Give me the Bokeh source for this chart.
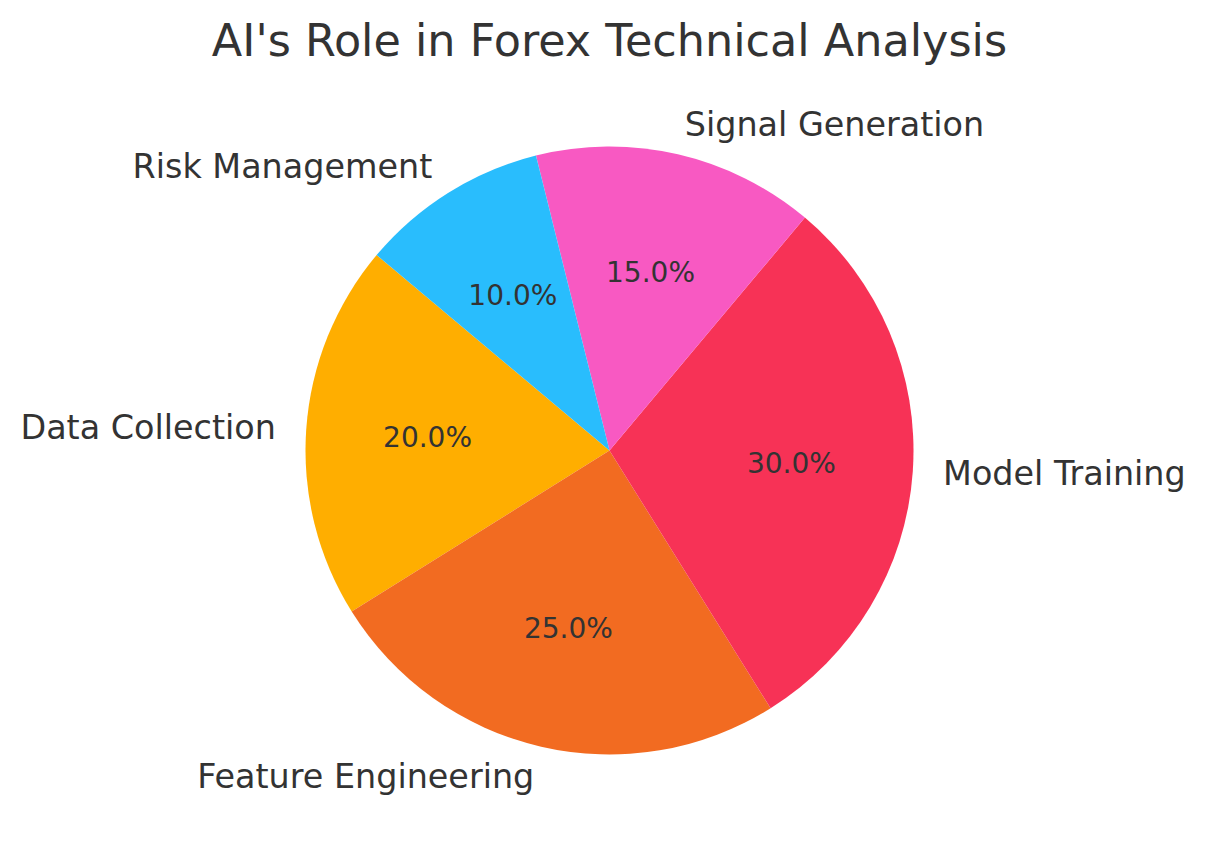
import math
from bokeh.plotting import figure
from bokeh.models import Range1d, ColumnDataSource
from bokeh.core.properties import value
from bokeh.embed import file_html
from bokeh.resources import INLINE

categories = ["Data Collection", "Feature Engineering", "Model Training", "Signal Generation", "Risk Management"]
shares = [20, 25, 30, 15, 10]
colors = ["#FFAE00", "#F26B21", "#F73256", "#F859C2", "#29BDFD"]
title_text = "AI's Role in Forex Technical Analysis"

W, H = 1189, 835
CX, CY, R = 609, 851 - 450, 304
START_DEG = 140
FONT = "DejaVu Sans"
TXT = "#333333"

total = sum(shares)
starts, ends, mids = [], [], []
a = math.radians(START_DEG)
for s in shares:
    span = 2 * math.pi * s / total
    starts.append(a)
    ends.append(a + span)
    mids.append(a + span / 2)
    a += span

p = figure(width=W, height=H, output_backend="svg", toolbar_location=None,
           x_range=Range1d(0, W), y_range=Range1d(851 - H, 851),
           min_border=0, min_border_left=0, min_border_right=0, min_border_top=0, min_border_bottom=0)
p.axis.visible = False
p.grid.visible = False
p.outline_line_color = None
p.background_fill_color = "white"

src = ColumnDataSource(dict(
    x=[CX] * len(shares), y=[CY] * len(shares),
    start=starts, end=ends, color=colors,
))
p.wedge(x="x", y="y", radius=R, radius_units="screen", start_angle="start", end_angle="end",
        fill_color="color", line_color=None, direction="anticlock", source=src)

# labels
lx = [CX + 1.1 * R * math.cos(m) for m in mids]
ly = [CY + 1.1 * R * math.sin(m) for m in mids]
lalign = ["left" if math.cos(m) > 0 else "right" for m in mids]
lsrc = ColumnDataSource(dict(x=lx, y=ly, t=categories, align=lalign))
p.text(x="x", y="y", text="t", text_align="align", text_baseline="middle",
       text_font=value(FONT), text_font_size="33.4px", text_color=TXT, source=lsrc)

# percentages
px_ = [CX + 0.6 * R * math.cos(m) for m in mids]
py_ = [CY + 0.6 * R * math.sin(m) for m in mids]
pct = [f"{100 * s / total:.1f}%" for s in shares]
psrc = ColumnDataSource(dict(x=px_, y=py_, t=pct))
p.text(x="x", y="y", text="t", text_align="center", text_baseline="middle",
       text_font=value(FONT), text_font_size="28px", text_color=TXT, source=psrc)

# title
p.text(x=[CX], y=[851 - 40], text=[title_text], text_align="center", text_baseline="middle",
       text_font=value(FONT), text_font_size="44.5px", text_color=TXT)

open("out.html", "w").write(file_html(p, INLINE))
